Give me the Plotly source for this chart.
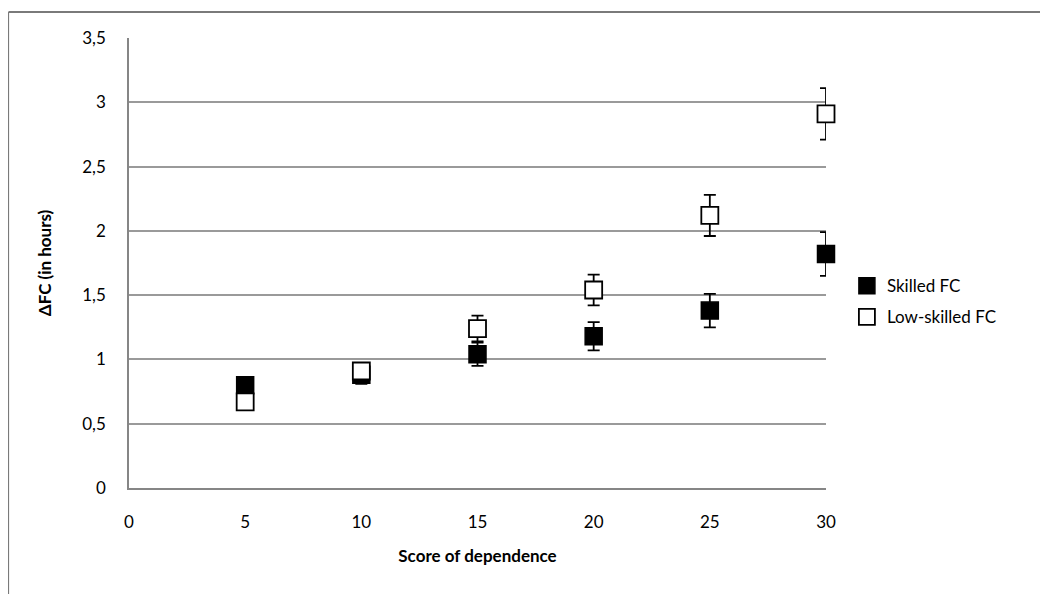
import plotly.graph_objects as go

scores = [5, 10, 15, 20, 25, 30]
skilled = [0.80, 0.88, 1.04, 1.18, 1.38, 1.82]
skilled_err = [0.04, 0.07, 0.09, 0.11, 0.13, 0.17]
low_skilled = [0.67, 0.91, 1.24, 1.54, 2.12, 2.91]
low_skilled_err = [0.04, 0.05, 0.10, 0.12, 0.16, 0.20]

FONT = "Lato, Carlito, Calibri, sans-serif"

W, H = 1040, 586
L, T = 121, 30
PW, PH = 697, 450

fig = go.Figure()
fig.add_trace(go.Scatter(
    x=scores, y=skilled, mode="markers", name="Skilled FC", legendgroup="a", cliponaxis=False,
    marker=dict(symbol="square", size=17, color="black", line=dict(color="black", width=1.5)),
    error_y=dict(type="data", array=skilled_err, visible=True, color="black", thickness=1.8, width=6),
))
fig.add_trace(go.Scatter(
    x=scores, y=low_skilled, mode="markers", name="Low-skilled FC", legendgroup="b", cliponaxis=False,
    marker=dict(symbol="square", size=17, color="white", line=dict(color="black", width=1.8)),
    error_y=dict(type="data", array=low_skilled_err, visible=True, color="black", thickness=1.8, width=6),
))

border_top = (PH + T - 4) / PH
border_left = (0.5 - L) / PW

fig.update_layout(
    width=W, height=H,
    margin=dict(l=L, r=W - L - PW, t=T, b=H - T - PH, autoexpand=False),
    plot_bgcolor="white", paper_bgcolor="white",
    separators=",.",
    font=dict(family=FONT, size=17, color="black"),
    xaxis=dict(
        range=[0, 30], tickvals=[0, 5, 10, 15, 20, 25, 30],
        showgrid=False, zeroline=False, showline=True, linecolor="#868686", linewidth=1.5,
        ticks="", ticklabelstandoff=18, automargin=False,
        title=dict(text="<b>Score of dependence</b>", font=dict(size=17), standoff=19),
    ),
    yaxis=dict(
        range=[0, 3.5], tickvals=[0, 0.5, 1, 1.5, 2, 2.5, 3, 3.5],
        showgrid=True, gridcolor="#9a9a9a", gridwidth=1.5,
        zeroline=False, showline=True, linecolor="#868686", linewidth=1.5,
        ticks="", ticklabelstandoff=18, automargin=False,
        title=dict(text="<b>ΔFC (in hours)</b>", font=dict(size=17), standoff=26),
    ),
    showlegend=True,
    legend=dict(x=1.03, y=0.414, xanchor="left", yanchor="middle",
                traceorder="grouped", tracegroupgap=6,
                font=dict(size=17), bgcolor="rgba(0,0,0,0)"),
    shapes=[
        dict(type="line", xref="paper", yref="paper",
             x0=border_left, x1=(W - L) / PW, y0=border_top, y1=border_top,
             line=dict(color="#7a7a7a", width=2), layer="above"),
        dict(type="line", xref="paper", yref="paper",
             x0=border_left, x1=border_left, y0=border_top, y1=-(H - T - PH) / PH,
             line=dict(color="#7a7a7a", width=1.2), layer="above"),
    ],
)

fig.write_html("out.html")
